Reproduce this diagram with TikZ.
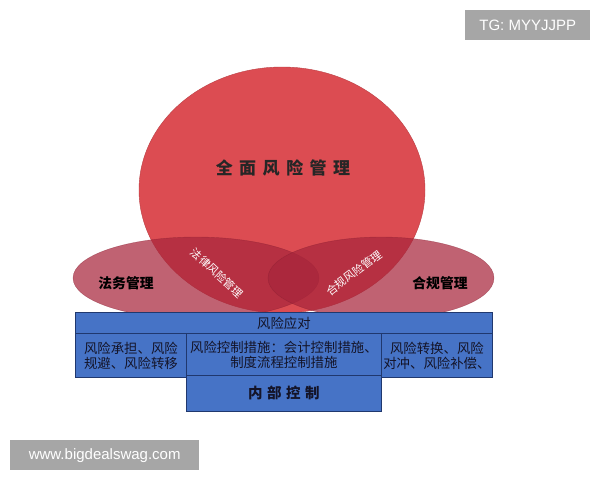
\documentclass[tikz,border=0pt]{standalone}
\usepackage{fontspec}
\setmainfont{Noto Sans CJK SC}
\newfontfamily\wmfont{Liberation Sans}
\usetikzlibrary{shapes.geometric}
\definecolor{bigred}{RGB}{220,76,82}
\definecolor{sidered}{RGB}{168,38,60}
\definecolor{boxblue}{RGB}{70,115,198}
\definecolor{boxline}{RGB}{32,56,110}
\definecolor{boxtext}{RGB}{20,20,40}
\definecolor{wmgrey}{RGB}{166,166,166}
\tikzset{
  bigcirc/.style={ellipse, inner sep=0pt, fill=bigred, draw=bigred!85!black, line width=0.4pt},
  sideell/.style={ellipse, inner sep=0pt, fill=sidered, fill opacity=0.72, draw=sidered!80!black, draw opacity=0.5, line width=0.4pt},
  sidelabel/.style={font=\fontsize{13.8}{15}\selectfont\bfseries, text=black},
  diaglabel/.style={font=\fontsize{11}{12}\selectfont, text=white, inner sep=0pt},
  bluebox/.style={draw=boxline, fill=boxblue, line width=0.8pt, anchor=north west, inner sep=0pt, align=center, text=boxtext, font=\fontsize{13.4}{15}\selectfont},
  wmbox/.style={fill=wmgrey, inner sep=0pt, anchor=north west, text=white, font=\wmfont\fontsize{15}{17}\selectfont}
}
\begin{document}
\begin{tikzpicture}[x=1pt,y=-1pt]
\useasboundingbox (0,0) rectangle (600,480);
\fill[white] (0,0) rectangle (600,480);
% big circle
\node[bigcirc, minimum width=286pt, minimum height=246pt] (big) at (282,190) {};
\node[font=\fontsize{17}{19}\selectfont\bfseries, text=black!85] (bigtxt) at (283,168) {全\hspace{6.5pt}面\hspace{6.5pt}风\hspace{6.5pt}险\hspace{6.5pt}管\hspace{6.5pt}理};
% side ellipses
\node[sideell, minimum width=246pt, minimum height=82pt] (left) at (196,278) {};
\node[sideell, minimum width=226pt, minimum height=82pt] (right) at (381,278) {};
\node[sidelabel] (lefttxt) at (126,283) {法务管理};
\node[sidelabel] (righttxt) at (440,283) {合规管理};
\node[diaglabel, rotate=-43] (lawrisk) at (217,273) {法律风险管理};
\node[diaglabel, rotate=37] (comprisk) at (354,273) {合规风险管理};
% blue boxes
\node[bluebox, minimum width=417pt, minimum height=21pt] (resp) at (75,312) {风险应对};
\node[bluebox, minimum width=111pt, minimum height=44pt] (lbox) at (75,333) {风险承担、风险\\规避、风险转移};
\node[bluebox, minimum width=111pt, minimum height=44pt] (rbox) at (381,333) {风险转换、风险\\对冲、风险补偿、};
\node[bluebox, minimum width=195pt, minimum height=36pt, font=\fontsize{14.5}{16}\selectfont\bfseries] (ic) at (186,375) {内\hspace{4.5pt}部\hspace{4.5pt}控\hspace{4.5pt}制};
\node[bluebox, minimum width=195pt, minimum height=42pt] (mbox) at (186,333) {风险控制措施：会计控制措施、\\制度流程控制措施};
% watermarks
\node[wmbox, minimum width=125pt, minimum height=30pt] (wm1) at (465,10) {TG: MYYJJPP};
\node[wmbox, minimum width=189pt, minimum height=30pt] (wm2) at (10,440) {www.bigdealswag.com};
\end{tikzpicture}
\end{document}
